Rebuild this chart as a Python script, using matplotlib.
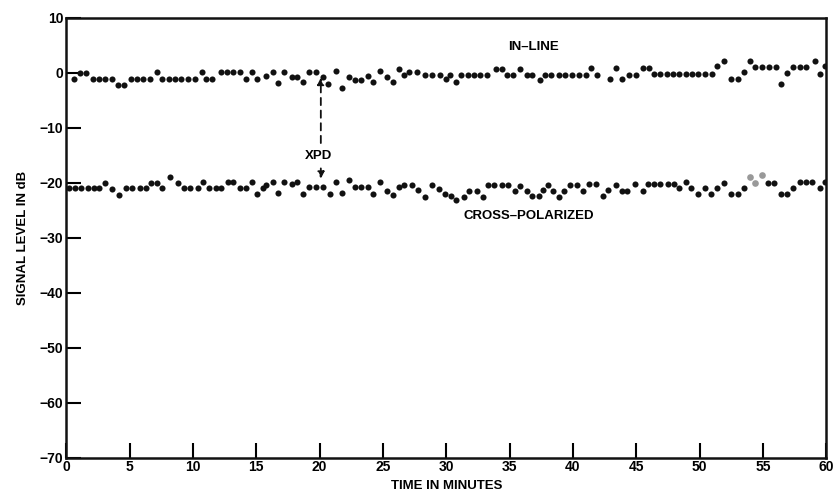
import matplotlib.pyplot as plt

# in-line signal (minutes, dB)
inline_t = [0.6, 1.1, 1.6, 2.1, 2.6, 3.1, 3.6, 4.1, 4.6, 5.1, 5.6, 6.1, 6.6, 7.2,
            7.6, 8.1, 8.6, 9.1, 9.6, 10.2, 10.7, 11.0, 11.5, 12.2, 12.7, 13.2, 13.7,
            14.2, 14.7, 15.1, 15.8, 16.3, 16.7, 17.2, 17.8, 18.2, 18.7, 19.2, 19.7,
            20.3, 20.7, 21.3, 21.8, 22.3, 22.8, 23.3, 23.8, 24.2, 24.8, 25.3, 25.8,
            26.3, 26.7, 27.1, 27.7, 28.3, 28.9, 29.5, 30.0, 30.3, 30.8, 31.2, 31.7,
            32.2, 32.7, 33.2, 33.9, 34.4, 34.8, 35.3, 35.8, 36.4, 36.8, 37.4, 37.8,
            38.3, 38.9, 39.4, 39.9, 40.5, 41.0, 41.4, 41.9, 42.9, 43.4, 43.9, 44.4,
            45.0, 45.5, 46.0, 46.4, 46.9, 47.4, 47.9, 48.4, 48.9, 49.4, 49.9, 50.4,
            51.0, 51.4, 51.9, 52.5, 53.0, 53.5, 54.0, 54.4, 54.9, 55.5, 56.0, 56.4,
            56.9, 57.4, 57.9, 58.4, 59.1, 59.5, 59.9]
inline_db = [-1.1, 0.0, 0.0, -1.2, -1.2, -1.2, -1.2, -2.2, -2.2, -1.1, -1.1, -1.1, -1.1, 0.1,
             -1.2, -1.2, -1.2, -1.2, -1.2, -1.2, 0.2, -1.2, -1.2, 0.2, 0.2, 0.2, 0.2,
             -1.1, 0.1, -1.1, -0.6, 0.2, -1.8, 0.2, -0.8, -0.8, -1.7, 0.2, 0.2,
             -0.8, -2.0, 0.4, -2.8, -0.8, -1.4, -1.4, -0.6, -1.7, 0.4, -0.8, -1.7,
             0.7, -0.5, 0.2, 0.2, -0.5, -0.5, -0.5, -1.2, -0.5, -1.7, -0.5, -0.5,
             -0.5, -0.5, -0.5, 0.7, 0.7, -0.4, -0.4, 0.7, -0.5, -0.5, -1.4, -0.4,
             -0.4, -0.4, -0.4, -0.4, -0.4, -0.4, 0.9, -0.4, -1.2, 0.9, -1.2, -0.4,
             -0.4, 0.9, 0.9, -0.2, -0.2, -0.2, -0.2, -0.2, -0.2, -0.2, -0.2, -0.2,
             -0.2, 1.2, 2.1, -1.1, -1.1, 0.2, 2.1, 1.0, 1.0, 1.0, 1.0, -2.0,
             0.0, 1.0, 1.0, 1.0, 2.1, -0.2, 1.2]

# cross-polarized signal (minutes, dB)
cross_t = [0.2, 0.7, 1.2, 1.7, 2.2, 2.6, 3.1, 3.6, 4.2, 4.7, 5.2, 5.8, 6.3, 6.7,
           7.2, 7.6, 8.2, 8.8, 9.3, 9.8, 10.4, 10.8, 11.3, 11.8, 12.2, 12.8, 13.2,
           13.7, 14.2, 14.7, 15.1, 15.5, 15.8, 16.3, 16.7, 17.2, 17.8, 18.2, 18.7,
           19.2, 19.7, 20.3, 20.8, 21.3, 21.8, 22.3, 22.8, 23.3, 23.8, 24.2, 24.8,
           25.3, 25.8, 26.3, 26.7, 27.3, 27.8, 28.3, 28.9, 29.4, 29.9, 30.4, 30.8,
           31.4, 31.8, 32.4, 32.9, 33.3, 33.8, 34.4, 34.9, 35.4, 35.8, 36.4, 36.8,
           37.3, 37.6, 38.0, 38.4, 38.9, 39.3, 39.8, 40.3, 40.8, 41.3, 41.8, 42.4,
           42.8, 43.4, 43.9, 44.3, 44.9, 45.5, 45.9, 46.4, 46.9, 47.5, 48.0, 48.4,
           48.9, 49.3, 49.9, 50.4, 50.9, 51.4, 51.9, 52.5, 53.0, 53.5, 55.4, 55.9,
           56.4, 56.9, 57.4, 57.9, 58.4, 58.9, 59.5, 59.9]
cross_db = [-21.0, -21.0, -21.0, -21.0, -21.0, -21.0, -20.1, -21.2, -22.3, -21.0, -21.0, -21.0, -21.0, -20.0,
            -20.0, -21.0, -19.0, -20.0, -21.0, -21.0, -21.0, -19.8, -21.0, -21.0, -21.0, -19.8, -19.8,
            -21.0, -21.0, -19.8, -22.0, -21.0, -20.4, -19.8, -21.8, -19.8, -20.3, -19.8, -22.0,
            -20.7, -20.7, -20.7, -22.0, -19.8, -21.8, -19.6, -20.7, -20.7, -20.7, -22.0, -19.8,
            -21.6, -22.3, -20.7, -20.4, -20.4, -21.4, -22.6, -20.4, -21.2, -22.0, -22.5, -23.2,
            -22.6, -21.6, -21.6, -22.6, -20.4, -20.4, -20.4, -20.4, -21.6, -20.6, -21.6, -22.5,
            -22.5, -21.4, -20.4, -21.5, -22.6, -21.6, -20.4, -20.4, -21.6, -20.2, -20.2, -22.5,
            -21.4, -20.4, -21.6, -21.6, -20.2, -21.6, -20.2, -20.2, -20.2, -20.2, -20.2, -21.0,
            -19.8, -21.0, -22.1, -20.9, -22.0, -20.9, -20.0, -22.0, -22.0, -21.0, -20.1, -20.1,
            -22.0, -22.0, -21.0, -19.8, -19.8, -19.8, -21.0, -19.8]

# faint points near 54 minutes
faint_t = [54.0, 54.4, 54.9]
faint_db = [-18.9, -20.0, -18.6]

x_ticks = list(range(0, 61, 5))
y_ticks = list(range(-70, 11, 10))
y_labels = ['\u221270', '\u221260', '\u221250', '\u221240', '\u221230', '\u221220', '\u221210', '0', '10']

plt.rcParams['font.family'] = ['Liberation Sans', 'DejaVu Sans']
plt.rcParams['font.weight'] = 'bold'
plt.rcParams['axes.labelweight'] = 'bold'

fig = plt.figure(figsize=(8.38, 4.93), dpi=100)
ax = fig.add_axes([0.079, 0.072, 0.907, 0.892])

ax.plot(inline_t, inline_db, 'o', color='#111111', ms=4.4, mec='none')
ax.plot(cross_t, cross_db, 'o', color='#111111', ms=4.4, mec='none')
ax.plot(faint_t, faint_db, 'o', color='#999999', ms=4.8, mec='none')

ax.set_xlim(0, 60)
ax.set_ylim(-70, 10)
ax.set_xticks(x_ticks)
ax.set_yticks(y_ticks)
ax.set_yticklabels(y_labels)
ax.tick_params(direction='in', length=11, width=1.5, labelsize=10, pad=2)
for s in ax.spines.values():
    s.set_linewidth(1.8)
    s.set_color('#111111')

ax.set_xlabel('TIME IN MINUTES', fontsize=9.5, labelpad=4)
ax.set_ylabel('SIGNAL LEVEL IN dB', fontsize=9.5, labelpad=8)

ax.text(36.9, 4.7, 'IN\u2013LINE', fontsize=9.5, ha='center', va='center')
ax.text(36.5, -26.0, 'CROSS\u2013POLARIZED', fontsize=9.5, ha='center', va='center')
ax.text(19.9, -15.1, 'XPD', fontsize=9.5, ha='center', va='center')
ax.annotate('', xy=(20.1, -0.4), xytext=(20.1, -13.3),
            arrowprops=dict(arrowstyle='-|>', ls=(0, (4, 3)), lw=1.3, color='#111111',
                            mutation_scale=10))
ax.annotate('', xy=(20.1, -19.8), xytext=(20.1, -16.9),
            arrowprops=dict(arrowstyle='-|>', ls=(0, (4, 3)), lw=1.3, color='#111111',
                            mutation_scale=10))

fig.savefig('out.png', dpi=100)
